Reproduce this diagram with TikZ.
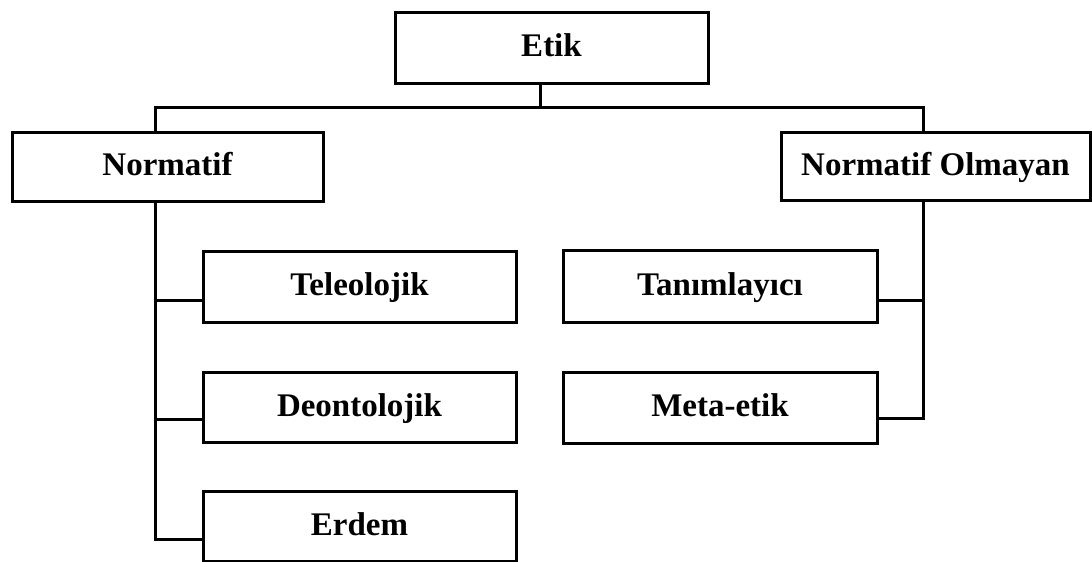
\documentclass[tikz,border=0pt]{standalone}
\usepackage{fontspec}
\setmainfont{Liberation Serif}
\begin{document}
\begin{tikzpicture}[x=1pt,y=-1pt,
  box/.style={draw=black,line width=3pt,fill=white,inner sep=0pt,
    text height=24pt,text depth=6pt,
    font=\fontsize{33}{38}\selectfont\bfseries},
  conn/.style={draw=black,line width=3pt,line join=miter}]
\useasboundingbox (0,0) rectangle (1092,562);
% nodes
\node[box,minimum width=313pt,minimum height=71pt] (etik) at (551.5,47.5) {Etik};
\node[box,minimum width=311pt,minimum height=69pt] (norm) at (167.5,166.5) {Normatif};
\node[box,minimum width=309pt,minimum height=68pt] (nonorm) at (935.5,166) {Normatif Olmayan};
\node[box,minimum width=313pt,minimum height=71pt] (tele) at (359.5,286.5) {Teleolojik};
\node[box,minimum width=313pt,minimum height=70pt] (deon) at (359.5,407) {Deontolojik};
\node[box,minimum width=313pt,minimum height=70pt] (erdem) at (359.5,526) {Erdem};
\node[box,minimum width=314pt,minimum height=72pt] (tan) at (720,286) {Tanımlayıcı};
\node[box,minimum width=314pt,minimum height=71pt] (meta) at (720,407.5) {Meta-etik};
% junctions
\coordinate (top) at (540,107);
\coordinate (lbus) at (155,107);
\coordinate (rbus) at (923,107);
\coordinate (l1) at (155,300);
\coordinate (l2) at (155,419);
\coordinate (l3) at (155,539);
\coordinate (r1) at (923,300);
\coordinate (r2) at (923,418);
% connectors
\path[conn] (etik.south -| top) -- (top);
\path[conn] (norm.north -| lbus) -- (lbus) -- (rbus) -- (nonorm.north -| rbus);
\path[conn] (norm.south -| lbus) -- (l3) -- (l3 -| erdem.west);
\path[conn] (l1) -- (l1 -| tele.west);
\path[conn] (l2) -- (l2 -| deon.west);
\path[conn] (nonorm.south -| rbus) -- (r2) -- (r2 -| meta.east);
\path[conn] (r1) -- (r1 -| tan.east);
\end{tikzpicture}
\end{document}
